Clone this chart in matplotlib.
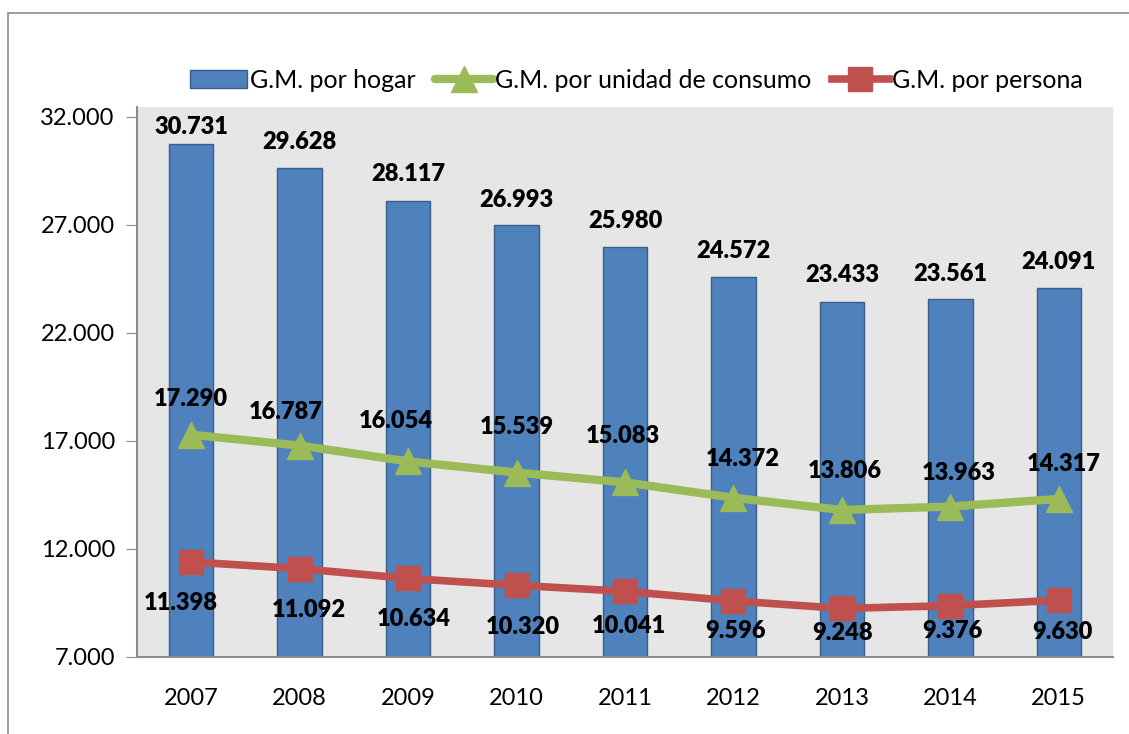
import matplotlib
matplotlib.use("Agg")
import matplotlib.pyplot as plt
from matplotlib.patches import Rectangle
from matplotlib.ticker import FuncFormatter

years = ["2007", "2008", "2009", "2010", "2011", "2012", "2013", "2014", "2015"]
hogar = [30731, 29628, 28117, 26993, 25980, 24572, 23433, 23561, 24091]
unidad = [17290, 16787, 16054, 15539, 15083, 14372, 13806, 13963, 14317]
persona = [11398, 11092, 10634, 10320, 10041, 9596, 9248, 9376, 9630]
series_names = ["G.M. por hogar", "G.M. por unidad de consumo", "G.M. por persona"]

# label offsets (pixels, dx, dy with +y downward) as placed in the original
hogar_lbl_dy = [-17, -26, -27, -25, -26, -26, -27, -25, -26]
unidad_lbl_off = [(0, -36), (-14, -34), (-12, -40), (0, -46), (-2, -46), (9, -39), (3, -39), (8, -34), (5, -35)]
persona_lbl_off = [(-10, 41), (9, 41), (6, 41), (6, 42), (4, 35), (2, 30), (1, 25), (2, 25), (4, 32)]

plt.rcParams['font.family'] = ['Lato', 'DejaVu Sans']

W, H = 1129, 734
FS = 17
PX = 72 / 100  # points per pixel
fig = plt.figure(figsize=(W / 100, H / 100), dpi=100)
ax = fig.add_axes([137 / W, 1 - 657 / H, (1113 - 137) / W, (657 - 107) / H])

# outer chart frame
fig.patches.append(Rectangle((8 / W, -0.1), 1.2, 1 - 13 / H + 0.1, transform=fig.transFigure,
                             fill=False, edgecolor='#8C8C8C', linewidth=1.2))

fmt = lambda v: f"{v:,.0f}".replace(",", ".")

x = list(range(len(years)))
ax.set_facecolor('#E6E6E6')
b = ax.bar(x, hogar, width=0.41, bottom=0, color='#4F81BD', edgecolor='#385D8A', linewidth=1.0,
           label=series_names[0], zorder=2)
l1, = ax.plot(x, unidad, color='#9BBB59', linewidth=6, marker='^', markersize=19,
              label=series_names[1], zorder=3, solid_capstyle='round')
l2, = ax.plot(x, persona, color='#C0504D', linewidth=5.5, marker='s', markersize=17,
              label=series_names[2], zorder=3)

ax.set_xlim(-0.5, len(years) - 0.5)
ax.set_ylim(7000, 32460)
ax.set_yticks([7000, 12000, 17000, 22000, 27000, 32000])
ax.yaxis.set_major_formatter(FuncFormatter(lambda v, p: fmt(v)))
ax.set_xticks(x)
ax.set_xticklabels(years)
ax.tick_params(axis='y', labelsize=FS, length=8, color='#8C8C8C', pad=8)
ax.tick_params(axis='x', labelsize=FS, length=0, pad=22)
for s in ['top', 'right']:
    ax.spines[s].set_visible(False)
for s in ['left', 'bottom']:
    ax.spines[s].set_color('#8C8C8C')
    ax.spines[s].set_linewidth(1.5)

for i in x:
    ax.annotate(fmt(hogar[i]), (i, hogar[i]), xytext=(0, -hogar_lbl_dy[i] * PX), textcoords='offset points',
                ha='center', va='center', fontsize=FS, fontweight='heavy', zorder=5)
    dx, dy = unidad_lbl_off[i]
    ax.annotate(fmt(unidad[i]), (i, unidad[i]), xytext=(dx * PX, -dy * PX), textcoords='offset points',
                ha='center', va='center', fontsize=FS, fontweight='heavy', zorder=5)
    dx, dy = persona_lbl_off[i]
    ax.annotate(fmt(persona[i]), (i, persona[i]), xytext=(dx * PX, -dy * PX), textcoords='offset points',
                ha='center', va='center', fontsize=FS, fontweight='heavy', zorder=5)

leg = fig.legend(handles=[b, l1, l2], loc='center', bbox_to_anchor=(636 / W, 1 - 80 / H), ncol=3,
                 frameon=False, fontsize=18, handlelength=2.3, handletextpad=0.1, columnspacing=0.8)

fig.savefig("out.png", dpi=100)
